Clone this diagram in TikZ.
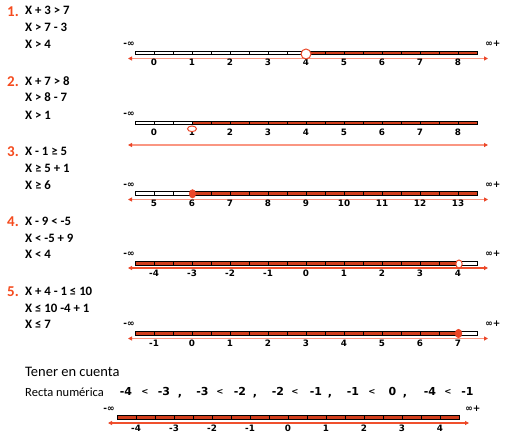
\documentclass[tikz,border=0pt]{standalone}
\usepackage{fontspec}
\setmainfont{Carlito}
\newfontfamily\numfont{DejaVu Sans}
\usetikzlibrary{arrows.meta}
\definecolor{numred}{RGB}{245,75,30}
\definecolor{salmon}{RGB}{250,150,130}
\definecolor{arrred}{RGB}{240,80,45}
\definecolor{barfill}{RGB}{210,62,28}
\definecolor{ptred}{RGB}{235,70,40}
\tikzset{
  secnum/.style={anchor=base west,inner sep=0pt,text=numred,font=\bfseries\fontsize{15}{16}\selectfont},
  eqtext/.style={anchor=base west,inner sep=0pt,font=\bfseries\fontsize{12.8}{14}\selectfont},
  lab/.style={inner sep=0pt,font=\numfont\bfseries\fontsize{8.8}{10}\selectfont},
  inf/.style={inner sep=0pt,font=\numfont\bfseries\fontsize{9}{10}\selectfont},
  barline/.style={draw=black,line width=0.8pt},
  tickline/.style={draw=black,line width=0.6pt},
  arrsal/.style={draw=salmon,line width=1.4pt,{Triangle[length=4pt,width=4pt,color=ptred]}-{Triangle[length=4pt,width=4pt,color=ptred]}},
  arrdark/.style={draw=arrred,line width=1.2pt,{Triangle[length=4pt,width=4pt,color=ptred]}-{Triangle[length=4pt,width=4pt,color=ptred]}},
  openpt/.style={draw=ptred,fill=white,line width=1pt},
  fullpt/.style={draw=ptred,fill=ptred,line width=0.6pt},
  cmp/.style={inner sep=0pt,anchor=base,font=\numfont\bfseries\fontsize{11}{12}\selectfont},
  cmplt/.style={inner sep=0pt,anchor=base,font=\numfont\bfseries\fontsize{8.5}{9}\selectfont},
}
\begin{document}
\begin{tikzpicture}[x=1pt,y=-1pt]
\useasboundingbox (0,0) rectangle (505,441);
\fill[white] (0,0) rectangle (505,441);

% ===== Section 1 =====
\node[secnum] (s1) at (7,16.5) {1.};
\node[eqtext] (e1a) at (25,15) {X + 3 > 7};
\node[eqtext] (e1b) at (25,32) {X > 7 - 3};
\node[eqtext] (e1c) at (25,49) {X > 4};
\node[inf] (m1) at (129,44) {-∞};
\node[inf] (p1) at (493,44) {∞+};
\fill[barfill] (306,51.25) rectangle (477,54.75);
\foreach \i in {1,...,17} \draw[tickline] (135+19*\i,51.25) -- (135+19*\i,54.75);
\draw[barline] (135,51.25) rectangle (477,54.75);
\coordinate (a1L) at (128,58.5); \coordinate (a1R) at (488,58.5);
\draw[arrsal] (a1L) -- (a1R);
\foreach \v [count=\k from 0] in {0,...,8} \node[lab] (l1-\k) at (154+38*\k,62.5) {\v};
\draw[openpt] (306,54) circle (5);

% ===== Section 2 =====
\node[secnum] (s2) at (7,86.5) {2.};
\node[eqtext] (e2a) at (25,85) {X + 7 > 8};
\node[eqtext] (e2b) at (25,102) {X > 8 - 7};
\node[eqtext] (e2c) at (25,119) {X > 1};
\node[inf] (m2) at (129,114) {-∞};
\fill[barfill] (192,121.25) rectangle (477,124.75);
\foreach \i in {1,...,17} \draw[tickline] (135+19*\i,121.25) -- (135+19*\i,124.75);
\draw[barline] (135,121.25) rectangle (477,124.75);
\foreach \v [count=\k from 0] in {0,...,8} \node[lab] (l2-\k) at (154+38*\k,132.5) {\v};
\draw[openpt] (192,128.8) ellipse (4.5 and 2.8);
\coordinate (a2L) at (128,145); \coordinate (a2R) at (488,145);
\draw[arrsal] (a2L) -- (a2R);

% ===== Section 3 =====
\node[secnum] (s3) at (7,156.5) {3.};
\node[eqtext] (e3a) at (25,155) {X - 1 ≥ 5};
\node[eqtext] (e3b) at (25,172) {X ≥ 5 + 1};
\node[eqtext] (e3c) at (25,189) {X ≥ 6};
\node[inf] (m3) at (129,185) {-∞};
\node[inf] (p3) at (493,185) {∞+};
\fill[barfill] (192,191.75) rectangle (477,195.25);
\foreach \i in {1,...,17} \draw[tickline] (135+19*\i,191.75) -- (135+19*\i,195.25);
\draw[barline] (135,191.75) rectangle (477,195.25);
\coordinate (a3L) at (128,199.5); \coordinate (a3R) at (488,199.5);
\draw[arrsal] (a3L) -- (a3R);
\foreach \v [count=\k from 0] in {5,...,13} \node[lab] (l3-\k) at (154+38*\k,203.5) {\v};
\draw[fullpt] (192.5,193.8) ellipse (3.2 and 4.2);

% ===== Section 4 =====
\node[secnum] (s4) at (7,226.5) {4.};
\node[eqtext] (e4a) at (25,225) {X - 9 < -5};
\node[eqtext] (e4b) at (25,242) {X < -5 + 9};
\node[eqtext] (e4c) at (25,258) {X < 4};
\node[inf] (m4) at (129,254) {-∞};
\node[inf] (p4) at (493,254) {∞+};
\fill[barfill] (135,261.75) rectangle (459,265.25);
\foreach \i in {1,...,17} \draw[tickline] (135+19*\i,261.75) -- (135+19*\i,265.25);
\draw[barline] (135,261.75) rectangle (477,265.25);
\coordinate (a4L) at (128,268); \coordinate (a4R) at (488,268);
\draw[arrdark] (a4L) -- (a4R);
\foreach \v [count=\k from 0] in {-4,...,4} \node[lab] (l4-\k) at (154+38*\k,273) {\v};
\draw[openpt] (459,264) ellipse (3.2 and 4);

% ===== Section 5 =====
\node[secnum] (s5) at (7,296.5) {5.};
\node[eqtext] (e5a) at (25,295) {X + 4 - 1 ≤ 10};
\node[eqtext] (e5b) at (25,312) {X ≤ 10 -4 + 1};
\node[eqtext] (e5c) at (25,328) {X ≤ 7};
\node[inf] (m5) at (129,324) {-∞};
\node[inf] (p5) at (493,324) {∞+};
\fill[barfill] (135,331.75) rectangle (458,335.25);
\foreach \i in {1,...,17} \draw[tickline] (135+19*\i,331.75) -- (135+19*\i,335.25);
\draw[barline] (135,331.75) rectangle (477,335.25);
\coordinate (a5L) at (128,338.5); \coordinate (a5R) at (488,338.5);
\draw[arrsal] (a5L) -- (a5R);
\foreach \v [count=\k from 0] in {-1,...,7} \node[lab] (l5-\k) at (154+38*\k,343.5) {\v};
\draw[fullpt] (458.5,333.5) ellipse (3.4 and 4.2);

% ===== Bottom =====
\node[anchor=base west,inner sep=0pt,font=\fontsize{14.5}{16}\selectfont] (tener) at (25,376) {Tener en cuenta};
\node[anchor=base west,inner sep=0pt,font=\fontsize{12.5}{14}\selectfont] (recta) at (25,396.5) {Recta numérica};
\foreach \t/\x [count=\k] in {-4/126,-3/164,-3/202.5,-2/240,-2/278,-1/316,-1/353,0/392.5,-4/430,-1/467.5}
  \node[cmp] (c\k) at (\x,395) {\t};
\foreach \x [count=\k] in {145,220,295,372,448}
  \node[cmplt] (lt\k) at (\x,394) {<};
\foreach \x [count=\k] in {180,255,330,405}
  \node[cmp] (cm\k) at (\x,396) {,};
\node[inf] (m6) at (109,409) {-∞};
\node[inf] (p6) at (473,409) {∞+};
\fill[barfill] (117,415.75) rectangle (459,419.25);
\foreach \i in {1,...,17} \draw[tickline] (117+19*\i,415.75) -- (117+19*\i,419.25);
\draw[barline] (117,415.75) rectangle (459,419.25);
\coordinate (a6L) at (108,423); \coordinate (a6R) at (469,423);
\draw[arrdark] (a6L) -- (a6R);
\foreach \v [count=\k from 0] in {-4,...,4} \node[lab] (l6-\k) at (136+38*\k,428.5) {\v};
\end{tikzpicture}
\end{document}
